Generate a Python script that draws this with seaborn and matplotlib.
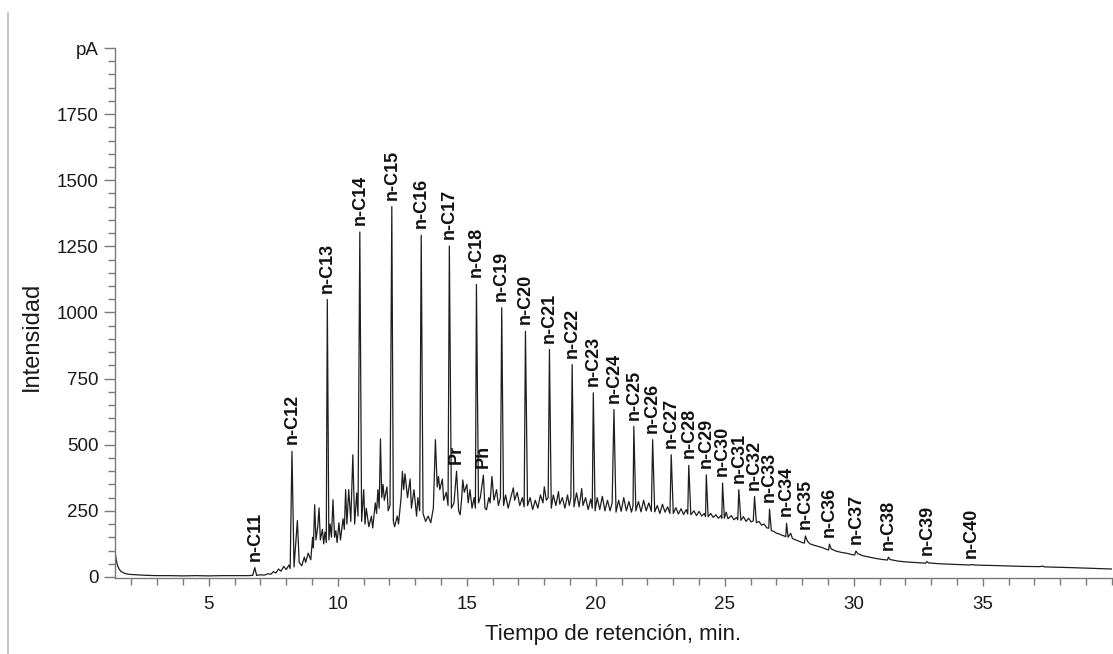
import matplotlib
matplotlib.use("Agg")
import matplotlib.pyplot as plt
from matplotlib.lines import Line2D
from matplotlib.ticker import MultipleLocator
import seaborn as sns
import pandas as pd

# n-alkanes: retention time (min) and peak top (pA)
alkane_names = ['n-C11', 'n-C12', 'n-C13', 'n-C14', 'n-C15', 'n-C16', 'n-C17', 'n-C18',
                'n-C19', 'n-C20', 'n-C21', 'n-C22', 'n-C23', 'n-C24', 'n-C25', 'n-C26',
                'n-C27', 'n-C28', 'n-C29', 'n-C30', 'n-C31', 'n-C32', 'n-C33', 'n-C34',
                'n-C35', 'n-C36', 'n-C37', 'n-C38', 'n-C39', 'n-C40']
alkane_times = [6.78, 8.22, 9.59, 10.85, 12.09, 13.23, 14.32, 15.37,
                16.35, 17.27, 18.20, 19.08, 19.90, 20.70, 21.47, 22.20,
                22.92, 23.60, 24.28, 24.91, 25.54, 26.15, 26.73, 27.39,
                28.12, 29.05, 30.08, 31.34, 32.83, 34.55]
alkane_heights = [35, 475, 1049, 1304, 1400, 1292, 1251, 1106,
                  1018, 929, 860, 803, 696, 633, 569, 519,
                  462, 422, 386, 355, 330, 304, 256, 203,
                  155, 124, 98, 75, 58, 47]

# isoprenoids
iso_names = ['Pr', 'Ph']
iso_times = [14.60, 15.64]
iso_heights = [400, 385]

# unresolved hump + small peaks, (time, pA)
trace_start = [
    (1.36, 100), (1.40, 70), (1.45, 45), (1.52, 30), (1.60, 20), (1.75, 13), (1.90, 10),
    (2.20, 8), (2.60, 6), (3.00, 5), (3.50, 5), (4.00, 4), (4.50, 5), (5.00, 4),
    (5.50, 5), (6.00, 5), (6.50, 5), (6.70, 6), (6.85, 6), (7.00, 8), (7.15, 7),
    (7.30, 12), (7.40, 10), (7.50, 20), (7.60, 15), (7.70, 30), (7.80, 22), (7.90, 40),
    (8.00, 28), (8.10, 45), (8.15, 32), (8.30, 38), (8.43, 213), (8.50, 55), (8.60, 42),
    (8.70, 75), (8.75, 55), (8.85, 90), (8.95, 65), (9.02, 150), (9.05, 110),
    (9.10, 273), (9.15, 140), (9.22, 190), (9.27, 261), (9.32, 140), (9.40, 180),
    (9.45, 125), (9.50, 170), (9.55, 130), (9.65, 140), (9.70, 200), (9.75, 150),
    (9.81, 292), (9.87, 150), (9.92, 175), (9.97, 130), (10.04, 205), (10.10, 140),
]
trace_hump_a = [
    (10.20, 220), (10.25, 180), (10.30, 330), (10.35, 200), (10.42, 330), (10.50, 210),
    (10.58, 462), (10.65, 200), (10.73, 318), (10.78, 230), (10.92, 210), (11.00, 330),
    (11.05, 200), (11.10, 260), (11.20, 190), (11.30, 230), (11.35, 185), (11.45, 280),
    (11.50, 240), (11.55, 330), (11.60, 260), (11.65, 522), (11.70, 300), (11.75, 350),
    (11.80, 290), (11.90, 340), (11.95, 250), (12.02, 270), (12.15, 210), (12.20, 190),
    (12.30, 230), (12.35, 200), (12.45, 300), (12.50, 399), (12.55, 330), (12.60, 390),
    (12.70, 300), (12.80, 370), (12.85, 260), (12.95, 330), (13.05, 230), (13.10, 300),
    (13.17, 250), (13.30, 240), (13.40, 210), (13.50, 230), (13.60, 205), (13.70, 260),
    (13.78, 519), (13.85, 340), (13.90, 380), (13.95, 330), (14.05, 370), (14.10, 290),
    (14.20, 320), (14.27, 270), (14.40, 260), (14.50, 280), (14.68, 250), (14.74, 235),
    (14.80, 300), (14.84, 367), (14.90, 320), (15.00, 350), (15.05, 280), (15.12, 330),
    (15.20, 260), (15.28, 300), (15.33, 260), (15.45, 280), (15.52, 300), (15.70, 260),
    (15.76, 254), (15.85, 300), (15.90, 280), (15.97, 380), (16.05, 290), (16.15, 330),
    (16.22, 270), (16.30, 300), (16.42, 270), (16.50, 310), (16.60, 260), (16.70, 300),
    (16.80, 337), (16.85, 290), (16.95, 320), (17.05, 270), (17.15, 300), (17.22, 265),
]
trace_hump_b = [
    (17.35, 270), (17.45, 300), (17.55, 255), (17.65, 290), (17.75, 260), (17.85, 310),
    (17.95, 280), (18.00, 341), (18.08, 290), (18.15, 300), (18.27, 260), (18.35, 310),
    (18.45, 270), (18.55, 323), (18.60, 275), (18.70, 300), (18.80, 260), (18.90, 310),
    (18.97, 270), (19.03, 300), (19.15, 265), (19.25, 318), (19.35, 265), (19.45, 334),
    (19.50, 270), (19.60, 300), (19.70, 255), (19.80, 295), (19.86, 260), (19.97, 250),
    (20.05, 300), (20.15, 255), (20.25, 305), (20.35, 250), (20.45, 290), (20.55, 250),
    (20.63, 280), (20.78, 245), (20.88, 290), (20.98, 248), (21.08, 300), (21.18, 250),
    (21.28, 285), (21.38, 245), (21.44, 270), (21.55, 250), (21.65, 285), (21.75, 246),
    (21.85, 290), (21.95, 250), (22.05, 280), (22.15, 248), (22.28, 246), (22.38, 270),
    (22.48, 240), (22.58, 275), (22.68, 245), (22.78, 265), (22.87, 240), (23.00, 240),
    (23.10, 262), (23.20, 238), (23.30, 258), (23.40, 236), (23.50, 255), (23.56, 238),
    (23.68, 235), (23.80, 250), (23.90, 232), (24.00, 248), (24.10, 230), (24.20, 240),
    (24.25, 228), (24.35, 228), (24.45, 240), (24.55, 225), (24.65, 235), (24.75, 222),
    (24.85, 232), (24.88, 222), (24.98, 222), (25.05, 245), (25.12, 220), (25.25, 232),
    (25.35, 216), (25.45, 225), (25.50, 216), (25.62, 214), (25.72, 228), (25.82, 210),
    (25.92, 222), (26.02, 208), (26.10, 212), (26.22, 205), (26.32, 210), (26.42, 196),
    (26.52, 200), (26.62, 186), (26.70, 184),
]
trace_tail = [
    (26.80, 175), (26.90, 172), (27.00, 165), (27.10, 163), (27.20, 158), (27.30, 155),
    (27.36, 152), (27.45, 150), (27.55, 165), (27.62, 145), (27.75, 140), (27.85, 136),
    (28.00, 130), (28.08, 128), (28.20, 135), (28.30, 125), (28.45, 120), (28.60, 116),
    (28.80, 110), (28.95, 104), (29.02, 102), (29.12, 106), (29.30, 98), (29.50, 93),
    (29.70, 90), (29.90, 85), (30.03, 83), (30.15, 88), (30.35, 80), (30.60, 75),
    (30.85, 70), (31.10, 66), (31.30, 64), (31.40, 66), (31.70, 60), (32.00, 57),
    (32.30, 55), (32.60, 53), (32.78, 52), (32.90, 53), (33.30, 50), (33.80, 48),
    (34.30, 46), (34.50, 45), (34.70, 45), (35.50, 43), (36.50, 40), (37.20, 39),
    (37.30, 41), (37.40, 38), (38.50, 35), (40.00, 30),
]

y_ticks = [0, 250, 500, 750, 1000, 1250, 1500, 1750, 2000]
y_ticklabels = ['0', '250', '500', '750', '1000', '1250', '1500', '1750', 'pA']
x_ticks = [5, 10, 15, 20, 25, 30, 35]

pts = trace_start + trace_hump_a + trace_hump_b + trace_tail
pts += list(zip(alkane_times, alkane_heights)) + list(zip(iso_times, iso_heights))
df = pd.DataFrame(pts, columns=['time', 'signal']).sort_values('time')

sns.set_theme(style='ticks')
plt.rcParams['font.family'] = ['Liberation Sans', 'DejaVu Sans']

fig = plt.figure(figsize=(11.13, 6.54), dpi=100)
ax = fig.add_axes([0.1033, 0.1162, 0.8957, 0.8104])

sns.lineplot(data=df, x='time', y='signal', sort=False, estimator=None,
             color='#1e1e1e', linewidth=0.9, ax=ax)

for name, t, h in zip(alkane_names + iso_names, alkane_times + iso_times,
                      alkane_heights + iso_heights):
    ax.annotate(name, xy=(t, h), xytext=(0, 5), textcoords='offset points',
                rotation=90, ha='center', va='bottom', fontsize=13,
                fontweight='bold', color='#111111')

ax.set_xlim(1.36, 40)
ax.set_ylim(-4, 2000)
ax.set_xticks(x_ticks)
ax.xaxis.set_minor_locator(MultipleLocator(1))
ax.set_yticks(y_ticks)
ax.set_yticklabels(y_ticklabels)
ax.yaxis.set_minor_locator(MultipleLocator(50))

for s in ['top', 'right']:
    ax.spines[s].set_visible(False)
for s in ['left', 'bottom']:
    ax.spines[s].set_color('#7a7a7a')
    ax.spines[s].set_linewidth(1.0)
ax.tick_params(axis='both', which='both', color='#7a7a7a', labelsize=13.5,
               labelcolor='#1a1a1a', width=1.0)
ax.tick_params(axis='y', which='major', length=8, pad=4)
ax.tick_params(axis='y', which='minor', length=5)
ax.tick_params(axis='x', which='major', length=6, pad=7)
ax.tick_params(axis='x', which='minor', length=5)

ax.set_xlabel('Tiempo de retención, min.', fontsize=16, color='#1a1a1a', labelpad=8)
ax.set_ylabel('Intensidad', fontsize=17, color='#1a1a1a')
ax.yaxis.set_label_coords(-0.072, 0.455)

# thin frame line on the left edge of the picture
fig.add_artist(Line2D([0.0075, 0.0075], [0.0, 0.98], color='#c4c4c4', linewidth=1.5))

fig.savefig('out.png', dpi=100)
